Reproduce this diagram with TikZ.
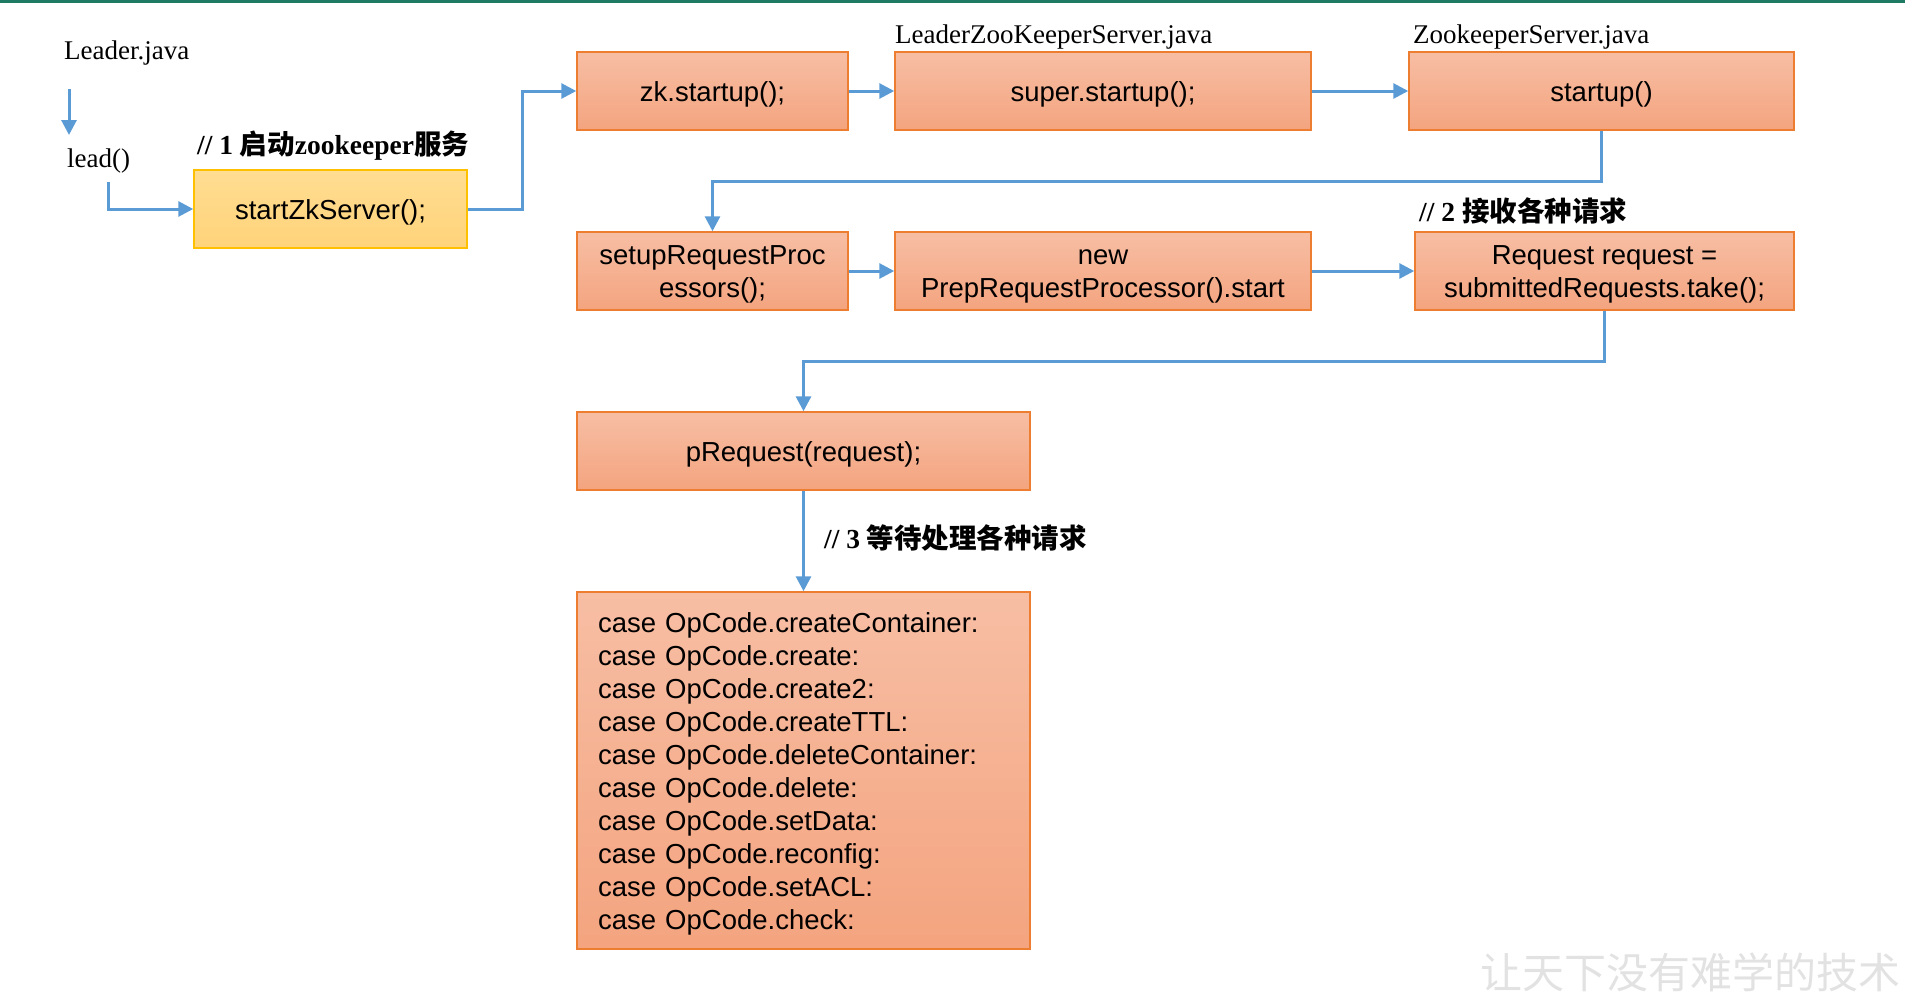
\documentclass[tikz,border=0pt]{standalone}
\usepackage{fontspec}
\setmainfont{Liberation Serif}
\newfontfamily\arial{Liberation Sans}
\newfontfamily\cjk{Noto Sans CJK SC}
\usetikzlibrary{arrows.meta}
\definecolor{salmonT}{RGB}{247,190,164}
\definecolor{salmonB}{RGB}{244,164,127}
\definecolor{salmonD}{RGB}{237,125,49}
\definecolor{yelT}{RGB}{255,221,146}
\definecolor{yelB}{RGB}{255,211,122}
\definecolor{yelD}{RGB}{255,192,0}
\definecolor{flow}{RGB}{91,155,213}
\definecolor{bar}{RGB}{30,122,98}
\definecolor{wm}{RGB}{226,226,226}
\begin{document}
\begin{tikzpicture}[x=1pt,y=-1pt,
 code/.style={draw=salmonD, line width=1.5pt, top color=salmonT, bottom color=salmonB, minimum height=78pt, inner sep=0pt, font=\arial\fontsize{27.5}{33}\selectfont, align=center, text height=20pt, text depth=0pt},
 twoline/.style={text height=53pt, text depth=0pt},
 hot/.style={code, draw=yelD, top color=yelT, bottom color=yelB},
 flowline/.style={draw=flow, line width=3pt, -{Triangle[length=15pt,width=15pt]}},
 file/.style={font=\fontsize{27}{32}\selectfont, inner sep=0pt, anchor=base west},
 note/.style={font=\bfseries\fontsize{27.5}{32}\selectfont, inner sep=0pt, anchor=west}]
\useasboundingbox (0,0) rectangle (1905,1007);
\fill[bar] (0,0) rectangle (1905,3);

% labels
\node[file] (lj) at (64,59) {Leader.java};
\node[file] (ld) at (67,167) {lead()};
\node[file] (f1) at (895,43) {LeaderZooKeeperServer.java};
\node[file] (f2) at (1413,43) {ZookeeperServer.java};
\node[note] (n1) at (197,146) {// 1 {\cjk 启动}zookeeper{\cjk 服务}};
\node[note] (n2) at (1419,211) {// 2 {\cjk 接收各种请求}};
\node[note] (n3) at (824,538) {// 3 {\cjk 等待处理各种请求}};

% boxes
\node[hot, minimum width=273pt] (sz) at (330.5,209) {startZkServer();};
\node[code, minimum width=271pt] (zk) at (712.5,91) {zk.startup();};
\node[code, minimum width=416pt] (su) at (1103,91) {super.startup();};
\node[code, minimum width=385pt] (st) at (1601.5,91) {startup()};
\node[code, twoline, minimum width=271pt] (sr) at (712.5,271) {setupRequestProc\\essors();};
\node[code, twoline, minimum width=416pt] (np) at (1103,271) {new\\PrepRequestProcessor().start};
\node[code, twoline, minimum width=379pt] (rq) at (1604.5,271) {Request request =\\submittedRequests.take();};
\node[code, minimum width=453pt] (pr) at (803.5,451) {pRequest(request);};
\node[code, minimum width=453pt, minimum height=357pt, text width=411pt, align=left, text depth=297pt] (cs) at (803.5,770.5)
 {case OpCode.createContainer:\\
  case OpCode.create:\\
  case OpCode.create2:\\
  case OpCode.createTTL:\\
  case OpCode.deleteContainer:\\
  case OpCode.delete:\\
  case OpCode.setData:\\
  case OpCode.reconfig:\\
  case OpCode.setACL:\\
  case OpCode.check:};

% connectors
\draw[flowline] ([xshift=5pt,yshift=-30pt]lj.base west) -- ([xshift=2pt,yshift=32pt]ld.base west);
\draw[flowline] ([xshift=41pt,yshift=-15pt]ld.base west) |- (sz.west);
\draw[flowline] (sz.east) -- ++(55,0) |- (zk.west);
\draw[flowline] (zk.east) -- (su.west);
\draw[flowline] (su.east) -- (st.west);
\draw[flowline] (st.south) -- ++(0,51) -| (sr.north);
\draw[flowline] (sr.east) -- (np.west);
\draw[flowline] (np.east) -- (rq.west);
\draw[flowline] (rq.south) -- ++(0,51) -| (pr.north);
\draw[flowline] (pr.south) -- (cs.north);

% watermark
\node[font=\cjk\fontsize{42}{48}\selectfont, text=wm, inner sep=0pt] (wmk) at (1690,972) {让天下没有难学的技术};
\end{tikzpicture}
\end{document}
